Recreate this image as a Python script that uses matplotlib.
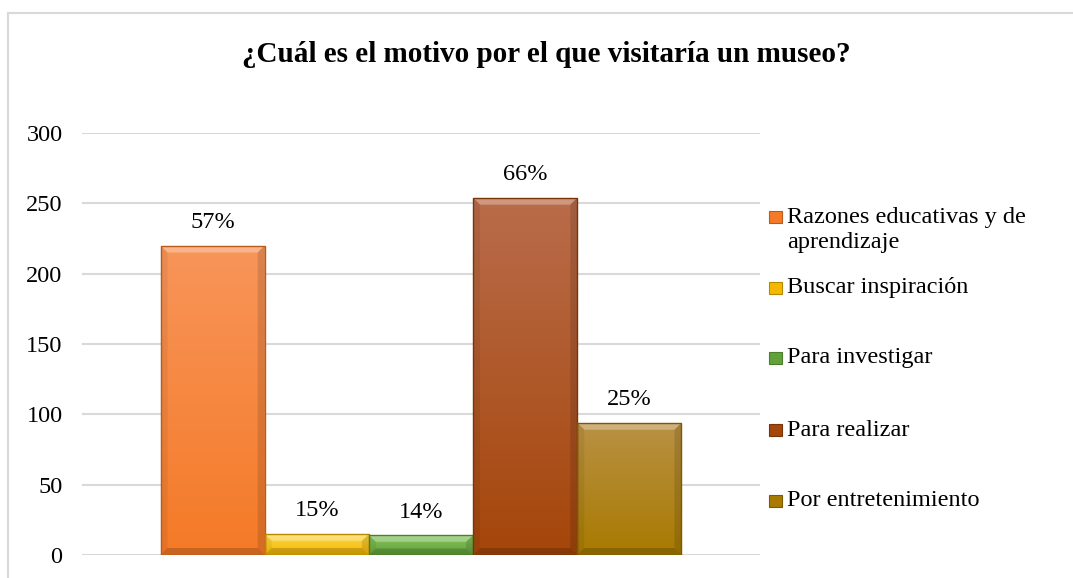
import numpy as np
import matplotlib
matplotlib.use("Agg")
import matplotlib.pyplot as plt
from matplotlib.colors import LinearSegmentedColormap
from matplotlib.patches import Rectangle, Polygon
from matplotlib.lines import Line2D

# ---- data ----
title = "¿Cuál es el motivo por el que visitaría un museo?"
categories = ["Razones educativas y de\naprendizaje", "Buscar inspiración",
              "Para investigar", "Para realizar", "Por entretenimiento"]
values = [220, 15, 14, 254, 94]
pct_labels = ["57%", "15%", "14%", "66%", "25%"]
yticks = [0, 50, 100, 150, 200, 250, 300]

# colours: (top, bottom, edge)
bar_colors = [("#F8955A", "#F47A27", "#B85C1E"),
              ("#FFD84A", "#F5B800", "#B58A00"),
              ("#86C25C", "#62A23A", "#4C7E2C"),
              ("#B96C4B", "#A5460A", "#7A3408"),
              ("#B99145", "#A87A00", "#7C5A00")]

plt.rcParams['font.family'] = ['Liberation Serif', 'DejaVu Serif']
FS = 17.5

fig = plt.figure(figsize=(10.73, 5.78), dpi=100)
W, H = 1073, 578
ax = fig.add_axes([82 / W, 1 - 555 / H, (760 - 82) / W, (555 - 133) / H])

n = len(values)
group = 0.7684
bw = group / n
xs = -group / 2 + bw / 2 + np.arange(n) * bw

ax.set_xlim(-0.5, 0.5)
ax.set_ylim(0, 300)
ax.set_yticks(yticks)
ax.set_yticklabels([str(t) for t in yticks], fontsize=FS)
ax.tick_params(axis='y', length=0, pad=14)
ax.set_xticks([])
for s in ax.spines.values():
    s.set_visible(False)
ax.yaxis.grid(True, color="#D9D9D9", linewidth=1.5)
ax.set_axisbelow(True)

bars = ax.bar(xs, values, width=bw, color="none", edgecolor="none", zorder=2)

fig.canvas.draw()
px_x = (ax.get_xlim()[1] - ax.get_xlim()[0]) / (ax.get_position().width * W)
px_y = (ax.get_ylim()[1] - ax.get_ylim()[0]) / (ax.get_position().height * H)

for bar, (ctop, cbot, cedge) in zip(bars, bar_colors):
    x0, y0 = bar.get_x(), bar.get_y()
    w, h = bar.get_width(), bar.get_height()
    cmap = LinearSegmentedColormap.from_list("g", [cbot, ctop])
    grad = np.linspace(0, 1, 256).reshape(-1, 1)
    im = ax.imshow(grad, cmap=cmap, origin="lower", aspect="auto",
                   extent=[x0, x0 + w, y0, y0 + h], zorder=3)
    im.set_clip_path(bar)
    bx = 7 * px_x
    by = min(7 * px_y, h / 3)
    top = Polygon([[x0, y0 + h], [x0 + w, y0 + h], [x0 + w - bx, y0 + h - by],
                   [x0 + bx, y0 + h - by]], closed=True,
                  facecolor="white", alpha=0.3, edgecolor="none", zorder=4)
    bot = Polygon([[x0, y0], [x0 + w, y0], [x0 + w - bx, y0 + by], [x0 + bx, y0 + by]],
                  closed=True, facecolor="black", alpha=0.18, edgecolor="none", zorder=4)
    lft = Polygon([[x0, y0], [x0 + bx, y0 + by], [x0 + bx, y0 + h - by], [x0, y0 + h]],
                  closed=True, facecolor="black", alpha=0.06, edgecolor="none", zorder=4)
    rgt = Polygon([[x0 + w, y0], [x0 + w - bx, y0 + by], [x0 + w - bx, y0 + h - by],
                   [x0 + w, y0 + h]], closed=True, facecolor="black", alpha=0.12,
                  edgecolor="none", zorder=4)
    for p in (top, bot, lft, rgt):
        ax.add_patch(p)
    ax.add_patch(Rectangle((x0, y0), w, h, facecolor="none", edgecolor=cedge,
                           linewidth=1.0, zorder=5))

for bar, lab in zip(bars, pct_labels):
    ax.annotate(lab, (bar.get_x() + bar.get_width() / 2, bar.get_height()),
                xytext=(0, 16.5), textcoords="offset points", ha="center",
                va="center", fontsize=FS, color="#000000")

# title
fig.text(546 / W, 1 - 55 / H, title, ha="center", va="center",
         fontsize=21, fontweight="bold")

# legend (manual, Excel-style)
leg_y = [230, 288, 358, 430, 501]
for (ctop, cbot, cedge), lab, yy in zip(bar_colors, categories, leg_y):
    marker_y = yy if "\n" not in lab else 217
    fig.patches.append(Rectangle((769 / W, 1 - (marker_y + 6) / H), 13 / W, 12 / H,
                                 transform=fig.transFigure, facecolor=cbot,
                                 edgecolor=cedge, linewidth=0.8))
    fig.text(787 / W, 1 - yy / H, lab, ha="left", va="center",
             fontsize=FS, linespacing=1.25)

# outer border (top and left visible)
fig.add_artist(Line2D([8 / W, 1], [1 - 12.5 / H, 1 - 12.5 / H], color="#D9D9D9",
                      linewidth=1.5, transform=fig.transFigure))
fig.add_artist(Line2D([8 / W, 8 / W], [1 - 12.5 / H, 0], color="#D9D9D9",
                      linewidth=1.5, transform=fig.transFigure))

fig.savefig("out.png", dpi=100)
